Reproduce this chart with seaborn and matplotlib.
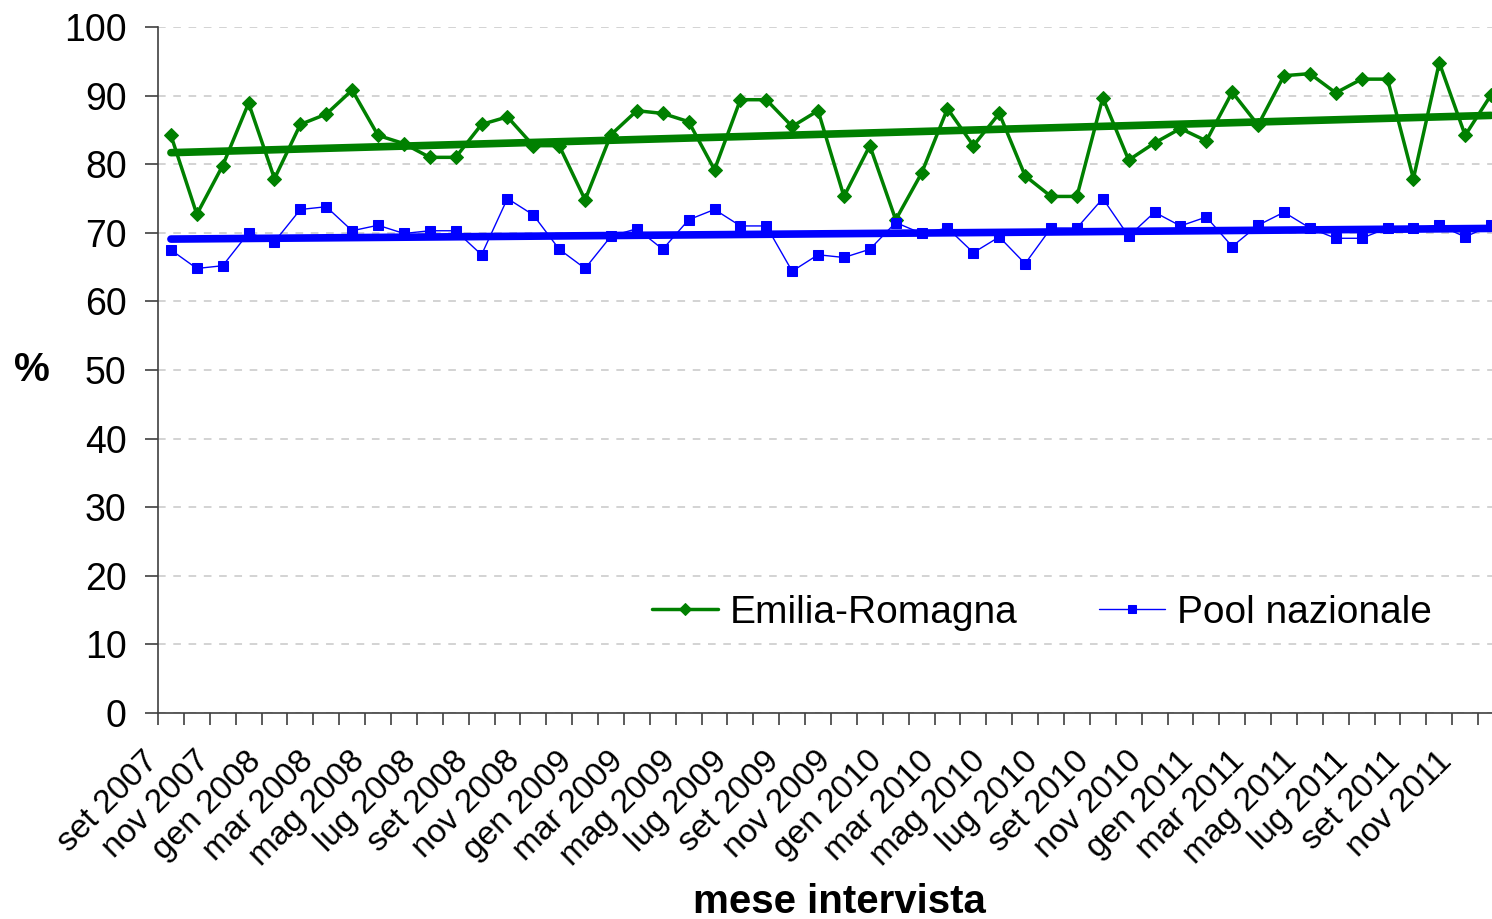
import numpy as np
import pandas as pd
import matplotlib
matplotlib.use("Agg")
import matplotlib.pyplot as plt
import matplotlib.transforms as mtransforms
import seaborn as sns

# month labels, set 2007 .. dic 2011
month_abbr = ["set", "ott", "nov", "dic", "gen", "feb", "mar", "apr", "mag", "giu", "lug", "ago"]
years = [2007, 2007, 2007, 2007] + [y for y in [2008, 2009, 2010, 2011] for _ in range(12)]
months = [f"{month_abbr[i % 12]} {years[i]}" for i in range(52)]

emilia = [84.2, 72.7, 79.8, 88.9, 77.9, 85.8, 87.3, 90.8, 84.2, 83.0,
          81.0, 81.0, 85.8, 86.9, 82.7, 82.7, 74.8, 84.3, 87.8, 87.4,
          86.2, 79.2, 89.4, 89.4, 85.5, 87.8, 75.3, 82.7, 71.9, 78.7,
          88.1, 82.7, 87.4, 78.3, 75.3, 75.3, 89.7, 80.6, 83.1, 85.2,
          83.4, 90.5, 85.7, 92.9, 93.2, 90.4, 92.4, 92.4, 77.9, 94.8,
          84.2, 90.1]

pool = [67.5, 64.8, 65.2, 70.0, 68.7, 73.4, 73.8, 70.3, 71.1, 69.9,
        70.3, 70.3, 66.8, 75.0, 72.6, 67.6, 64.8, 69.5, 70.6, 67.6,
        71.9, 73.4, 71.0, 71.0, 64.4, 66.8, 66.4, 67.6, 71.5, 69.9,
        70.7, 67.1, 69.4, 65.5, 70.7, 70.7, 75.0, 69.5, 73.0, 71.0,
        72.3, 68.0, 71.1, 73.0, 70.7, 69.2, 69.2, 70.7, 70.7, 71.1,
        69.4, 71.1]

GREEN = "#008000"
BLUE = "#0000FF"
AXIS = "#404040"

df = pd.DataFrame({"idx": np.arange(len(months)), "mese": months,
                   "er": emilia, "pool": pool})

sns.set_style("white")
plt.rcParams["font.family"] = ["Liberation Sans", "DejaVu Sans"]
plt.rcParams.update({"text.color": "black", "axes.labelcolor": "black",
                     "xtick.color": "black", "ytick.color": "black"})

fig = plt.figure(figsize=(14.92, 9.19), dpi=100)
ax = fig.add_axes([158 / 1492, 1 - 713 / 919, (1504 - 158) / 1492, (713 - 27) / 919])

# trend lines (linear fit)
sns.regplot(data=df, x="idx", y="er", ax=ax, scatter=False, ci=None,
            color=GREEN, line_kws={"lw": 5.5, "zorder": 3})
sns.regplot(data=df, x="idx", y="pool", ax=ax, scatter=False, ci=None,
            color=BLUE, line_kws={"lw": 5.5, "zorder": 3})

sns.lineplot(data=df, x="idx", y="er", ax=ax, color=GREEN, lw=2.5,
             marker="D", ms=7.5, mec=GREEN, mfc=GREEN, label="Emilia-Romagna", zorder=4)
sns.lineplot(data=df, x="idx", y="pool", ax=ax, color=BLUE, lw=1,
             marker="s", ms=7.5, mec=BLUE, mfc=BLUE, label="Pool nazionale", zorder=4)

ax.set_xlim(-0.5, 51.5)
ax.set_ylim(0, 100)
ax.set_yticks(np.arange(0, 101, 10))

ax.set_xticks(np.arange(0, 52, 2))
ax.set_xticklabels(months[::2], rotation=45, ha="right", va="center",
                   rotation_mode="anchor")
ax.set_xticks(np.arange(-0.5, 52, 1), minor=True)

ax.yaxis.grid(True, ls=(0, (5, 5)), color="#c8c8c8", lw=1.1)
ax.xaxis.grid(False)
ax.set_axisbelow(True)

for s in ["top", "right"]:
    ax.spines[s].set_visible(False)
for s in ["left", "bottom"]:
    ax.spines[s].set_color(AXIS)
    ax.spines[s].set_linewidth(1.2)

ax.tick_params(axis="y", left=True, direction="out", length=9.5, width=1.2,
               color=AXIS, labelsize=27, pad=13)
ax.tick_params(axis="x", which="major", bottom=True, length=0, labelsize=24, pad=24)
ax.tick_params(axis="x", which="minor", bottom=True, direction="out", length=8.5,
               width=1.2, color=AXIS)

# nudge the rotated month labels (after tick_params, which resets transforms)
shift = mtransforms.ScaledTranslation(-18 / 100, -10 / 100, fig.dpi_scale_trans)
for lbl in ax.get_xticklabels():
    lbl.set_transform(lbl.get_transform() + shift)

ax.set_ylabel("%", rotation=0, fontsize=29, fontweight="bold", va="center", ha="center")
ax.yaxis.set_label_coords((32 - 158) / 1346, 0.5)
ax.set_xlabel("mese intervista", fontsize=29, fontweight="bold", va="center")
ax.xaxis.set_label_coords((839 - 158) / 1346, (713 - 902) / 686)

ax.legend(loc="center left", bbox_to_anchor=((636 - 158) / 1346, (713 - 613) / 686),
          ncol=2, frameon=False, fontsize=28, handlelength=1.7, handletextpad=0.3,
          columnspacing=2.1, markerscale=0.8, borderaxespad=0)

fig.savefig("out.png", dpi=100)
